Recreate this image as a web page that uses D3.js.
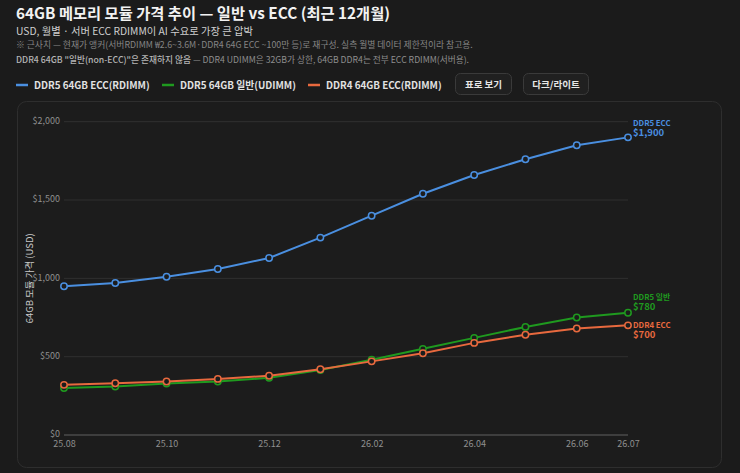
<!DOCTYPE html>
<html>
<head>
<meta charset="utf-8">
<script src="https://cdn.jsdelivr.net/npm/d3@7"></script>
<style>
  html, body { margin: 0; padding: 0; background: #1b1b1b; }
  body { font-family: "Noto Sans CJK KR", "Noto Sans", sans-serif; }
  svg text { font-family: "Noto Sans CJK KR", "Noto Sans", sans-serif; }
</style>
</head>
<body>
<div id="chart"></div>
<script>
const MONTHS = ["25.08","25.09","25.10","25.11","25.12","26.01","26.02","26.03","26.04","26.05","26.06","26.07"];
const TICK_MONTHS = ["25.08","25.10","25.12","26.02","26.04","26.06","26.07"];
const Y_TICKS = [0, 500, 1000, 1500, 2000];

const DDR5_ECC = [950, 970, 1010, 1060, 1130, 1260, 1400, 1540, 1660, 1760, 1850, 1900];
const DDR5_UDIMM = [300, 310, 328, 342, 365, 415, 480, 550, 620, 690, 750, 780];
const DDR4_ECC = [320, 330, 342, 358, 378, 420, 470, 522, 588, 640, 680, 700];

const SERIES_NAMES = ["DDR5 64GB ECC(RDIMM)", "DDR5 64GB 일반(UDIMM)", "DDR4 64GB ECC(RDIMM)"];
const END_NAMES = ["DDR5 ECC", "DDR5 일반", "DDR4 ECC"];
const COLORS = ["#4a8fe0", "#1f9a1f", "#e8693e"];

const W = 740, H = 473;
const margin = { top: 121.7, right: 114, bottom: 38, left: 64 };

const svg = d3.select("#chart").append("svg")
  .attr("width", W).attr("height", H);

// header
svg.append("text").attr("x", 16).attr("y", 19)
  .attr("fill", "#f2f2f2").attr("font-size", 15.3).attr("font-weight", 700)
  .text("64GB 메모리 모듈 가격 추이 — 일반 vs ECC (최근 12개월)");
svg.append("text").attr("x", 16).attr("y", 35)
  .attr("fill", "#cfcfcf").attr("font-size", 10.3)
  .text("USD, 월별 · 서버 ECC RDIMM이 AI 수요로 가장 큰 압박");
svg.append("text").attr("x", 16).attr("y", 48)
  .attr("fill", "#858585").attr("font-size", 8.8)
  .text("※ 근사치 — 현재가 앵커(서버RDIMM ₩2.6~3.6M·DDR4 64G ECC ~100만 등)로 재구성. 실측 월별 데이터 제한적이라 참고용.");
const note = svg.append("text").attr("x", 16).attr("y", 63)
  .attr("font-size", 8.7);
note.append("tspan").attr("fill", "#b5b5b5").attr("font-weight", 500)
  .text("DDR4 64GB \"일반(non-ECC)\"은 존재하지 않음");
note.append("tspan").attr("fill", "#8e8e8e")
  .text(" — DDR4 UDIMM은 32GB가 상한, 64GB DDR4는 전부 ECC RDIMM(서버용).");

// legend
const legendX = [16, 162, 308];
SERIES_NAMES.forEach((name, i) => {
  const g = svg.append("g").attr("transform", `translate(${legendX[i]},85)`);
  g.append("line").attr("x1", 0).attr("x2", 12).attr("y1", 0).attr("y2", 0)
    .attr("stroke", COLORS[i]).attr("stroke-width", 2.5);
  g.append("text").attr("x", 18).attr("y", 3.8)
    .attr("fill", "#e2e2e2").attr("font-size", 9.8).attr("font-weight", 700)
    .text(name);
});

// buttons
const buttons = [
  { label: "표로 보기", x: 455, w: 56 },
  { label: "다크/라이트", x: 523, w: 65 }
];
buttons.forEach(b => {
  svg.append("rect").attr("x", b.x + 0.5).attr("y", 73.5).attr("width", b.w).attr("height", 21)
    .attr("rx", 5).attr("fill", "#202020").attr("stroke", "#3a3a3a");
  svg.append("text").attr("x", b.x + b.w / 2 + 0.5).attr("y", 87.5)
    .attr("text-anchor", "middle").attr("fill", "#e6e6e6")
    .attr("font-size", 9.5).attr("font-weight", 700).text(b.label);
});

// panel
svg.append("rect").attr("x", 17.5).attr("y", 101.5).attr("width", 704).attr("height", 366)
  .attr("rx", 9).attr("fill", "#1c1c1c").attr("stroke", "#2e2e2e");

const x = d3.scalePoint().domain(MONTHS).range([margin.left, W - margin.right + 2]);
const y = d3.scaleLinear().domain([0, 2000]).range([435, margin.top]);

// gridlines
svg.append("g")
  .selectAll("line").data(Y_TICKS).join("line")
  .attr("x1", x(MONTHS[0])).attr("x2", x(MONTHS[MONTHS.length - 1]))
  .attr("y1", d => y(d)).attr("y2", d => y(d))
  .attr("stroke", d => d === 0 ? "#4a4a4a" : "#303030")
  .attr("stroke-width", d => d === 0 ? 1.5 : 1);

// y axis
const yAxis = svg.append("g")
  .attr("transform", `translate(${margin.left - 4},-1)`)
  .call(d3.axisLeft(y).tickValues(Y_TICKS).tickSize(0).tickPadding(0)
    .tickFormat(d => "$" + d3.format(",")(d)));
yAxis.select(".domain").remove();
yAxis.selectAll("text").attr("fill", "#8f8f8f").attr("font-size", 9)
  .attr("font-family", "\"Noto Sans CJK KR\", sans-serif");

// x axis
const xAxis = svg.append("g")
  .attr("transform", "translate(0,438)")
  .call(d3.axisBottom(x).tickValues(TICK_MONTHS).tickSize(0).tickPadding(3));
xAxis.select(".domain").remove();
xAxis.selectAll("text").attr("fill", "#8f8f8f").attr("font-size", 9)
  .attr("font-family", "\"Noto Sans CJK KR\", sans-serif");

// y axis title
svg.append("text")
  .attr("transform", `translate(33,${y(1000)}) rotate(-90)`)
  .attr("text-anchor", "middle").attr("fill", "#c8c8c8").attr("font-size", 9.5)
  .text("64GB 모듈 가격 (USD)");

// lines
const allSeries = [DDR5_ECC, DDR5_UDIMM, DDR4_ECC];
const line = d3.line().x((d, i) => x(MONTHS[i])).y(d => y(d));
const drawOrder = [1, 2, 0];
drawOrder.forEach(si => {
  const vals = allSeries[si];
  svg.append("path").datum(vals)
    .attr("d", line).attr("fill", "none")
    .attr("stroke", COLORS[si]).attr("stroke-width", 2);
  svg.append("g").selectAll("circle").data(vals).join("circle")
    .attr("cx", (d, i) => x(MONTHS[i])).attr("cy", d => y(d)).attr("r", 3.2)
    .attr("fill", "#1c1c1c").attr("stroke", COLORS[si]).attr("stroke-width", 1.5);
});

// end labels (two-line text: name + value)
const endOffsets = [-11, -13, 3];
allSeries.forEach((vals, si) => {
  const lx = x(MONTHS[MONTHS.length - 1]) + 5;
  const ly = y(vals[vals.length - 1]);
  const t = svg.append("text").attr("x", lx).attr("y", ly + endOffsets[si])
    .attr("fill", COLORS[si]).attr("font-weight", 700);
  t.append("tspan").attr("x", lx).attr("font-size", 7.8).text(END_NAMES[si]);
  t.append("tspan").attr("x", lx).attr("dy", 10).attr("font-size", 9.5)
    .text("$" + d3.format(",")(vals[vals.length - 1]));
});
</script>
</body>
</html>
